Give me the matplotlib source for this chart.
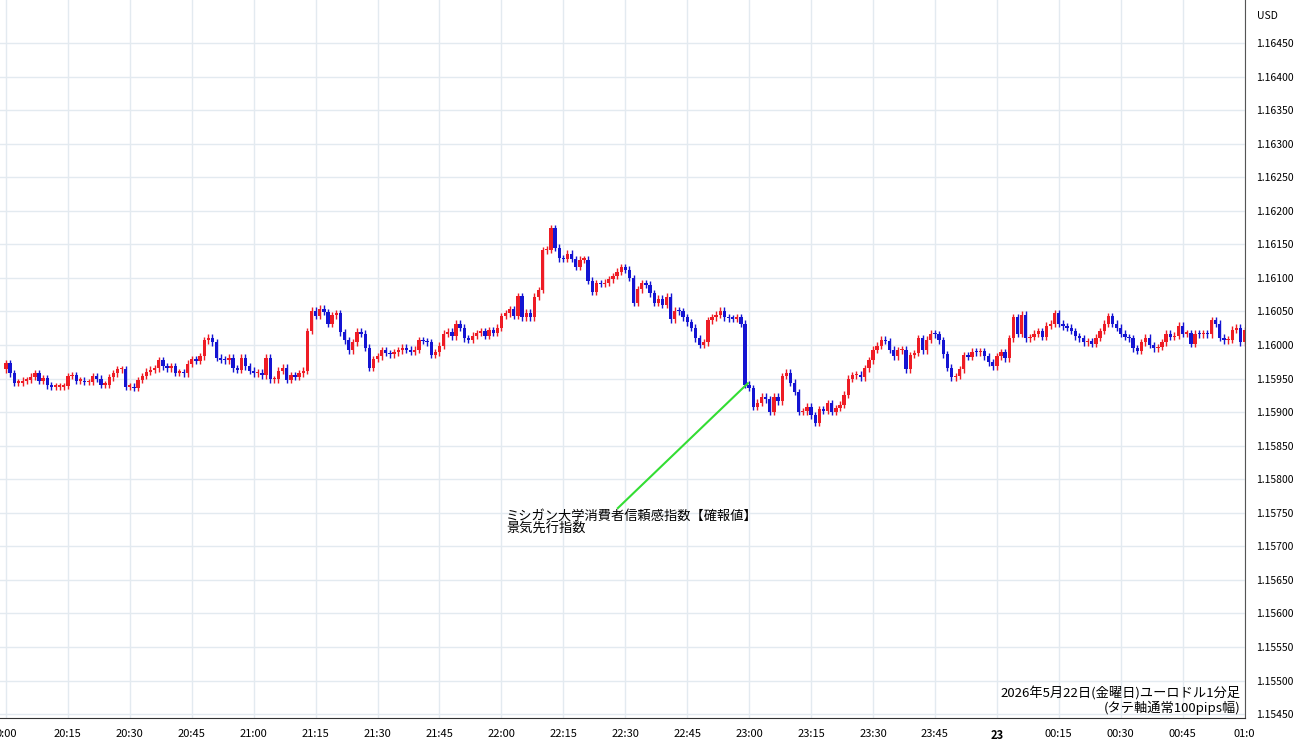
import numpy as np
import matplotlib.pyplot as plt
import matplotlib as mpl
mpl.rcParams['font.family'] = ['Noto Sans CJK JP', 'DejaVu Sans']

# 1分足の終値 (1.15000 からの pips), 20:00 から
closes = [
    97.3, 95.8, 94.4, 94.4, 94.7, 94.8, 95.3, 95.8, 94.7, 95.1,
    94.0, 93.8, 93.8, 93.8, 93.9, 95.4, 95.5, 94.7, 94.7, 94.5,
    94.5, 95.4, 95.0, 94.1, 94.1, 95.2, 95.8, 96.4, 96.4, 93.8,
    93.8, 93.6, 94.8, 95.4, 96.0, 96.3, 96.5, 97.7, 96.8, 96.5,
    96.8, 95.9, 95.9, 95.8, 97.2, 97.9, 97.6, 98.3, 100.7, 101.1,
    100.4, 98.1, 97.8, 97.7, 98.1, 96.5, 96.3, 98.1, 96.8, 96.2,
    95.8, 95.9, 95.5, 98.1, 94.9, 94.9, 96.2, 96.6, 94.8, 95.5,
    95.3, 95.8, 96.2, 102.1, 105.1, 104.3, 105.4, 104.9, 103.2, 104.4,
    104.7, 101.9, 100.7, 99.2, 100.4, 102.0, 101.7, 99.6, 96.6, 97.9,
    98.3, 99.2, 98.8, 98.6, 98.9, 99.2, 99.6, 99.3, 99.0, 99.3,
    100.7, 100.6, 100.4, 98.5, 98.9, 99.9, 101.7, 102.0, 101.3, 103.2,
    102.6, 101.0, 100.8, 101.4, 101.8, 102.1, 101.4, 102.2, 101.8, 102.6,
    104.3, 104.7, 105.3, 104.3, 107.3, 104.1, 104.8, 104.1, 107.2, 108.2,
    114.1, 114.2, 117.4, 114.5, 112.9, 112.8, 113.6, 112.8, 111.6, 112.7,
    112.7, 109.6, 107.9, 109.2, 109.1, 109.3, 109.8, 110.3, 110.9, 111.6,
    111.2, 110.0, 106.3, 108.3, 109.2, 109.0, 107.7, 106.3, 106.9, 106.0,
    107.2, 103.8, 105.1, 105.0, 104.1, 103.4, 102.6, 101.0, 100.0, 100.4,
    103.7, 104.1, 104.5, 105.1, 104.1, 104.0, 103.9, 104.1, 103.2, 94.1,
    93.6, 90.8, 91.4, 92.3, 91.9, 90.0, 92.3, 91.6, 95.4, 95.9,
    94.4, 93.0, 90.0, 90.1, 90.8, 89.5, 88.4, 90.4, 90.2, 91.3,
    90.0, 90.6, 91.1, 92.6, 95.0, 95.5, 95.6, 95.2, 96.5, 97.7,
    99.3, 99.9, 100.8, 100.6, 99.3, 98.3, 99.2, 99.3, 96.4, 98.5,
    98.8, 101.0, 99.2, 100.8, 101.7, 101.6, 100.7, 98.6, 96.6, 95.2,
    95.4, 96.4, 98.5, 98.2, 99.0, 98.9, 99.1, 98.3, 97.4, 96.8,
    98.3, 98.9, 98.0, 101.0, 104.1, 101.7, 104.5, 101.0, 101.2, 101.7,
    102.1, 101.2, 102.9, 103.2, 104.7, 103.2, 102.8, 102.6, 102.1, 101.3,
    101.0, 100.4, 100.6, 100.2, 101.1, 102.1, 103.2, 104.3, 103.2, 102.6,
    101.7, 101.2, 101.0, 99.5, 99.1, 100.4, 101.1, 100.0, 99.5, 99.7,
    100.4, 101.7, 101.2, 101.4, 102.9, 101.7, 101.8, 100.2, 101.7, 101.6,
    101.8, 101.6, 103.7, 103.2, 101.1, 100.7, 100.8, 102.3, 102.6, 100.4,
    102.2,
]
first_open = 96.4
wick = 0.5

tick_labels = ['0:00', '20:15', '20:30', '20:45', '21:00', '21:15', '21:30', '21:45',
               '22:00', '22:15', '22:30', '22:45', '23:00', '23:15', '23:30', '23:45',
               '23', '00:15', '00:30', '00:45', '01:0']
y_ticks = [1.1545 + 0.0005 * i for i in range(21)]

c = 1.15 + np.array(closes) / 10000
o = np.concatenate([[1.15 + first_open / 10000], c[:-1]])
hi = np.maximum(o, c) + wick / 10000
lo = np.minimum(o, c) - wick / 10000
m = np.arange(len(c))
up = c >= o
cols = np.where(up, '#ee1c25', '#1414d2')

fig = plt.figure(figsize=(13, 7.45), dpi=100)
ax = fig.add_axes([0, 0.036, 1245 / 1300, 0.964])

ax.vlines(m, lo, hi, colors=cols, linewidth=1, zorder=2)
body = np.maximum(np.abs(c - o), 0.00002)
ax.bar(m, body, bottom=np.minimum(o, c), width=0.8, color=cols, zorder=3)

ax.set_xlim(-1.45, 300.1)
ax.set_ylim(1.15444, 1.16514)
ax.set_xticks(np.arange(0, 301, 15))
ax.set_xticklabels(tick_labels, fontsize=8)
ax.get_xticklabels()[16].set_fontweight('bold')
ax.yaxis.tick_right()
ax.set_yticks(y_ticks)
ax.set_yticklabels(['%.5f' % v for v in y_ticks], fontsize=7.5)
ax.tick_params(length=0, pad=8)
ax.tick_params(axis='y', pad=8)
ax.grid(color='#e3eaf0', linewidth=1, zorder=0)
for s in ['top', 'left']:
    ax.spines[s].set_visible(False)
ax.spines['bottom'].set_color('#333333')
ax.spines['right'].set_color('#555555')
fig.text(1267 / 1300, 1 - 16 / 745, 'USD', fontsize=7.5, ha='center', va='center')

# 指標発表
ax.plot([148.2, 179.7], [1.15757, 1.15943], color='#33dd33', linewidth=1.5, zorder=4)
ax.text(121.2, 1.15754, 'ミシガン大学消費者信頼感指数【確報値】\n景気先行指数',
        fontsize=9.5, va='top', ha='left', linespacing=1.0)
ax.text(0.996, 0.005, '2026年5月22日(金曜日)ユーロドル1分足\n(タテ軸通常100pips幅)',
        transform=ax.transAxes, ha='right', va='bottom', fontsize=9.5, linespacing=1.0)

fig.savefig('out.png')
